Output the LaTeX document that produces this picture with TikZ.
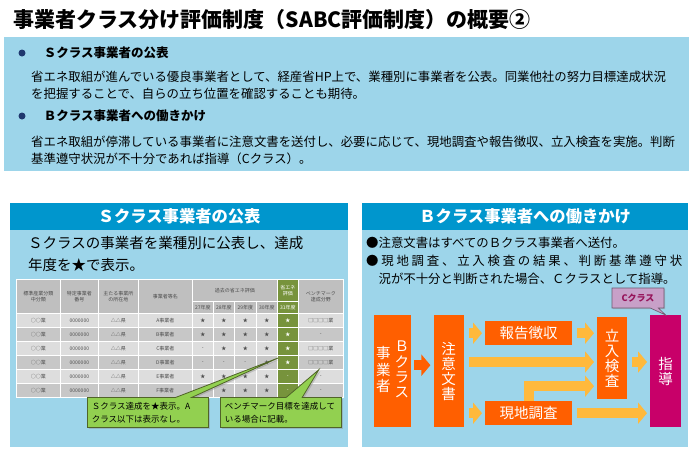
\documentclass[tikz,border=0pt]{standalone}
\usepackage{fontspec}
\setmainfont{Noto Sans CJK JP}
\usepackage{xcolor}
\usepackage{tikz}
\usetikzlibrary{arrows.meta, positioning, calc, shapes.callouts, shadows}
\definecolor{panelbg}{RGB}{157, 213, 234}
\definecolor{headblue}{RGB}{0, 150, 205}
\definecolor{navy}{RGB}{31, 56, 110}
\definecolor{flowred}{RGB}{255, 95, 0}
\definecolor{arrowgold}{RGB}{255, 185, 60}
\definecolor{guidepink}{RGB}{200, 0, 105}
\definecolor{cmauve}{RGB}{200, 160, 200}
\definecolor{cpurple}{RGB}{150, 20, 90}
\definecolor{notegreen}{RGB}{146, 208, 80}
\definecolor{noteedge}{RGB}{80, 100, 40}
\definecolor{greencol}{RGB}{119, 147, 60}
\definecolor{headgray}{RGB}{191, 191, 191}
\definecolor{rowlight}{RGB}{221, 221, 221}
\definecolor{rowdark}{RGB}{199, 199, 199}
\tikzset{
  panel/.style={rectangle, fill=panelbg, inner sep=0pt, anchor=north west},
  headbar/.style={
    rectangle, fill=headblue, text=white, inner sep=0pt, anchor=north west,
    minimum height=27pt, font=\fontsize{16.3}{18}\selectfont\bfseries
  },
  bodytext/.style={inner sep=0pt, anchor=north west, align=left},
  bullethead/.style={inner sep=0pt, font=\fontsize{12.5}{15}\selectfont\bfseries},
  bulletdot/.style={circle, fill=navy, minimum size=7pt, inner sep=0pt},
  tcell/.style={
    rectangle, draw=white, line width=0.7pt, inner sep=0pt, anchor=north west,
    minimum height=14pt, align=center, text=black!70,
    font=\fontsize{5}{6}\selectfont
  },
  greencell/.style={tcell, fill=greencol, text=white},
  notebox/.style={
    rectangle callout, fill=notegreen, draw=noteedge, line width=0.8pt,
    callout pointer width=16pt, anchor=north west, minimum height=30pt,
    text width=112pt, inner xsep=4.5pt, align=left,
    font=\fontsize{8.5}{13}\selectfont,
    drop shadow={opacity=0.35, shadow xshift=1.5pt, shadow yshift=-1.5pt}
  },
  flowbox/.style={
    rectangle, fill=flowred, text=white, inner sep=0pt, anchor=north west,
    align=center, font=\fontsize{14.5}{15}\selectfont
  },
  fatarrow/.style={
    draw=arrowgold, line width=10pt, -{Triangle[length=9pt, width=21pt]},
    shorten <=5pt, shorten >=3pt
  }
}
\begin{document}
\begin{tikzpicture}[x=1pt, y=-1pt]
  \useasboundingbox (0,0) rectangle (696,453);
  \fill[white] (0,0) rectangle (696,453);

  % Title
  \node[anchor=west, inner sep=0pt, font=\fontsize{21}{24}\selectfont\bfseries] (title) at (13,20)
    {事業者クラス分け評価制度（SABC評価制度）の概要②};

  % Summary box
  \node[panel, minimum width=685pt, minimum height=134pt] (summary) at (4,37) {};
  \node[bulletdot] (dot1) at (22,53) {};
  \node[bullethead, right=18pt of dot1] (head1) {Ｓクラス事業者の公表};
  \node[bodytext, font=\fontsize{12.4}{17}\selectfont] (body1) at (31,71)
    {省エネ取組が進んでいる優良事業者として、経産省HP上で、業種別に事業者を公表。同業他社の努力目標達成状況\\
     を把握することで、自らの立ち位置を確認することも期待。};
  \node[bulletdot] (dot2) at (22,116) {};
  \node[bullethead, right=18pt of dot2] (head2) {Ｂクラス事業者への働きかけ};
  \node[bodytext, font=\fontsize{12.4}{17}\selectfont] (body2) at (31,136)
    {省エネ取組が停滞している事業者に注意文書を送付し、必要に応じて、現地調査や報告徴収、立入検査を実施。判断\\
     基準遵守状況が不十分であれば指導（Cクラス）。};

  % Left panel: S class
  \node[panel, minimum width=338pt, minimum height=244pt] (spanel) at (10,203) {};
  \node[headbar, minimum width=338pt] (shead) at (10,203) {Ｓクラス事業者の公表};
  \node[bodytext, font=\fontsize{14.5}{22}\selectfont] (stext) at (28,236)
    {Ｓクラスの事業者を業種別に公表し、達成\\年度を★で表示。};

  % Table header
  \node[tcell, fill=headgray, minimum width=44pt, minimum height=34pt] (h-cls) at (16,279) {標準産業分類\\中分類};
  \node[tcell, fill=headgray, minimum width=38pt, minimum height=34pt] (h-num) at (60,279) {特定事業者\\番号};
  \node[tcell, fill=headgray, minimum width=40pt, minimum height=34pt] (h-loc) at (98,279) {主たる事業所\\の所在地};
  \node[tcell, fill=headgray, minimum width=54pt, minimum height=34pt] (h-name) at (138,279) {事業者等名};
  \node[tcell, fill=headgray, minimum width=85pt, minimum height=22pt] (h-past) at (192,279) {過去の省エネ評価};
  \foreach \yr/\x/\w in {27/192/21, 28/213/21, 29/234/22, 30/256/21}
    \node[tcell, fill=headgray, minimum width=\w pt, minimum height=12pt] (h-\yr) at (\x,301) {\yr 年度};
  \node[greencell, minimum width=21pt, minimum height=22pt] (h-eval) at (277,279) {省エネ\\評価};
  \node[greencell, minimum width=21pt, minimum height=12pt] (h-31) at (277,301) {31年度};
  \node[tcell, fill=headgray, minimum width=45pt, minimum height=34pt] (h-bench) at (298,279) {ベンチマーク\\達成分野};

  % Table rows
  \foreach \r/\rc/\ya/\yb/\yc/\yd/\ye/\bm [count=\i from 0] in {
      A/rowlight/★/★/★/★/★/□□□□業,
      B/rowdark/★/★/★/★/★/-,
      C/rowlight/-/★/★/★/★/□□□□業,
      D/rowdark/-/-/-/★/★/□□□□業,
      E/rowlight/★/★/★/★/-/-,
      F/rowdark/★/★/★/★/-/-}{
    \node[tcell, fill=\rc, minimum width=44pt] (c-\r-1) at (16,313+14*\i) {○○業};
    \node[tcell, fill=\rc, minimum width=38pt] (c-\r-2) at (60,313+14*\i) {0000000};
    \node[tcell, fill=\rc, minimum width=40pt] (c-\r-3) at (98,313+14*\i) {△△県};
    \node[tcell, fill=\rc, minimum width=54pt] (c-\r-4) at (138,313+14*\i) {\r 事業者};
    \node[tcell, fill=\rc, minimum width=21pt] (c-\r-5) at (192,313+14*\i) {\ya};
    \node[tcell, fill=\rc, minimum width=21pt] (c-\r-6) at (213,313+14*\i) {\yb};
    \node[tcell, fill=\rc, minimum width=22pt] (c-\r-7) at (234,313+14*\i) {\yc};
    \node[tcell, fill=\rc, minimum width=21pt] (c-\r-8) at (256,313+14*\i) {\yd};
    \node[greencell, minimum width=21pt] (c-\r-9) at (277,313+14*\i) {\ye};
    \node[tcell, fill=\rc, minimum width=45pt] (c-\r-10) at (298,313+14*\i) {\bm};
  }

  % Notes on the table
  \node[notebox, callout absolute pointer={($(c-D-9.north west)+(1,3)$)}] (note1) at (87,397)
    {Ｓクラス達成を★表示。A\\クラス以下は表示なし。};
  \node[notebox, callout absolute pointer={($(c-D-10.south)+(-2,0)$)}] (note2) at (220,397)
    {ベンチマーク目標を達成して\\いる場合に記載。};

  % Right panel: B class
  \node[panel, minimum width=326pt, minimum height=244pt] (bpanel) at (362,203) {};
  \node[headbar, minimum width=326pt] (bhead) at (362,203) {Ｂクラス事業者への働きかけ};
  \node[bodytext, font=\fontsize{12.4}{18}\selectfont] (btext) at (366,237)
    {●注意文書はすべてのＢクラス事業者へ送付。\\
     \makebox[316pt][s]{●\ 現\hfill 地\hfill 調\hfill 査\hfill 、\hfill 立\hfill 入\hfill 検\hfill 査\hfill の\hfill 結\hfill
       果\hfill 、\hfill 判\hfill 断\hfill 基\hfill 準\hfill 遵\hfill 守\hfill 状}\\
     \phantom{●}況が不十分と判断された場合、Ｃクラスとして指導。};

  % Flow boxes
  \node[flowbox, minimum width=37pt, minimum height=112pt] (bcls) at (374,315)
    {\begin{tabular}{@{}c@{}}事\\業\\者\end{tabular}\hspace{4pt}\begin{tabular}{@{}c@{}}Ｂ\\ク\\ラ\\ス\end{tabular}};
  \node[flowbox, minimum width=30pt, minimum height=112pt, right=22pt of bcls] (notice) {注\\意\\文\\書};
  \node[flowbox, minimum width=87pt, minimum height=24pt] (report) at (485,321) {報告徴収};
  \node[flowbox, minimum width=87pt, minimum height=24pt] (survey) at (485,401) {現地調査};
  \node[flowbox, minimum width=30pt, minimum height=82pt] (inspect) at (597,317) {立\\入\\検\\査};
  \node[flowbox, fill=guidepink, minimum width=31pt, minimum height=112pt] (guide) at (650,315) {指\\導};

  \node[rectangle callout, fill=cmauve, draw=cmauve!55!black, line width=0.6pt, text=cpurple,
        font=\fontsize{9}{10}\selectfont\bfseries, minimum width=52pt, minimum height=20pt,
        inner sep=0pt, callout absolute pointer={(guide.north)}, callout pointer width=8pt,
        drop shadow={opacity=0.3, shadow xshift=1pt, shadow yshift=-1pt}] (cnote) at (638,298) {Cクラス};

  % Flow arrows
  \coordinate (lane) at (0,362);
  \draw[fatarrow, draw=flowred, shorten <=3pt] ([yshift=6pt]bcls.east) -- ([yshift=6pt]notice.west);
  \draw[fatarrow] (notice.east |- report.west) -- (report.west);
  \draw[fatarrow] (notice.east |- lane) -- (inspect.west |- lane);
  \draw[fatarrow] (notice.east |- survey.west) -- (survey.west);
  \draw[fatarrow] (report.east) -- (inspect.west |- report.east);
  \draw[fatarrow, shorten <=0pt] (survey.north) |- ($(inspect.west)+(0,28)$);
  \draw[fatarrow] (inspect.east |- lane) -- (guide.west |- lane);
  \draw[fatarrow] (survey.east) -- (guide.west |- survey.east);

\end{tikzpicture}
\end{document}
